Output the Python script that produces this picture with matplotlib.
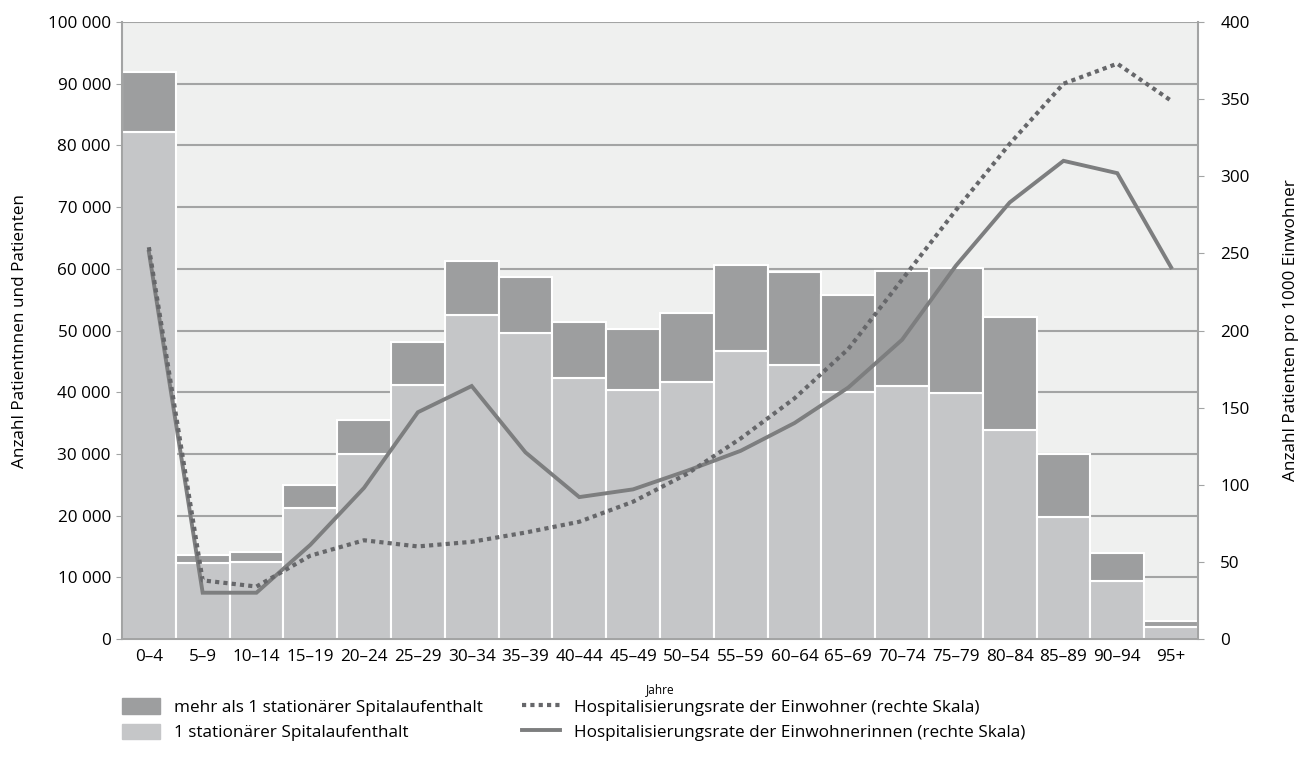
import matplotlib
matplotlib.use("Agg")
import matplotlib.pyplot as plt
import matplotlib.patches as mpatches
from matplotlib.lines import Line2D
from matplotlib.ticker import FuncFormatter
import numpy as np

plt.rcParams['font.family'] = ['Open Sans', 'DejaVu Sans']

# Daten
altersgruppen = ['0–4', '5–9', '10–14', '15–19', '20–24', '25–29', '30–34', '35–39',
                 '40–44', '45–49', '50–54', '55–59', '60–64', '65–69', '70–74',
                 '75–79', '80–84', '85–89', '90–94', '95+']
ein_aufenthalt = [82200, 12300, 12500, 21200, 30000, 41200, 52500, 49600, 42300, 40400,
                  41700, 46700, 44400, 40000, 41000, 39900, 33900, 19800, 9400, 1900]
total_patienten = [91900, 13600, 14100, 25000, 35500, 48100, 61300, 58700, 51400, 50200,
                   52800, 60600, 59500, 55800, 59600, 60100, 52200, 30000, 13900, 2900]
rate_maenner = [254, 38, 34, 54, 64, 60, 63, 69, 76, 89,
                107, 130, 156, 188, 233, 278, 321, 360, 373, 349]
rate_frauen = [251, 30, 30, 61, 98, 147, 164, 121, 92, 97,
               109, 122, 140, 163, 194, 242, 283, 310, 302, 241]

mehr_aufenthalt = [t - e for t, e in zip(total_patienten, ein_aufenthalt)]

c_hell = '#c5c6c8'
c_dunkel = '#9d9e9f'
c_grid = '#a3a4a4'
c_linie = '#7d7e7f'
c_punkt = '#66676a'
fs = 12.3

fig = plt.figure(figsize=(13.03, 7.67), dpi=100)
ax = fig.add_axes([0.0936, 0.1669, 0.8258, 0.8044])
ax.set_facecolor('#eff0ef')

x = np.arange(len(altersgruppen))
ax.bar(x, ein_aufenthalt, width=1.0, color=c_hell, edgecolor='white', linewidth=1.5, zorder=2)
ax.bar(x, mehr_aufenthalt, bottom=ein_aufenthalt, width=1.0, color=c_dunkel,
       edgecolor='white', linewidth=1.5, zorder=2)

ax.set_xlim(-0.5, len(altersgruppen) - 0.5)
ax.set_ylim(0, 100000)
ax.set_yticks(np.arange(0, 100001, 10000))
ax.yaxis.set_major_formatter(FuncFormatter(lambda v, p: f"{int(v):,}".replace(',', ' ')))
ax.grid(axis='y', color=c_grid, linewidth=1.5, zorder=1)
ax.set_axisbelow(True)
ax.set_xticks(x)
ax.set_xticklabels(altersgruppen)
ax.tick_params(axis='x', length=0, labelsize=fs, pad=7)
ax.tick_params(axis='y', length=4, color=c_grid, labelsize=fs, pad=4)
for s in ['top', 'right']:
    ax.spines[s].set_visible(False)
for s in ['left', 'bottom']:
    ax.spines[s].set_color(c_grid)
    ax.spines[s].set_linewidth(1.5)
ax.set_ylabel('Anzahl Patientnnen und Patienten', fontsize=fs, labelpad=14)
ax.set_xlabel('Jahre', fontsize=8.5, labelpad=13)

ax2 = ax.twinx()
ax2.plot(x, rate_frauen, color=c_linie, linewidth=2.8, solid_joinstyle='miter', zorder=3)
ax2.plot(x, rate_maenner, color=c_punkt, linewidth=3, linestyle=(0, (1, 1)), zorder=4)
ax2.set_ylim(0, 400)
ax2.set_yticks(np.arange(0, 401, 50))
ax2.tick_params(axis='y', length=4, color=c_grid, labelsize=fs, pad=12)
for s in ['top', 'left', 'bottom']:
    ax2.spines[s].set_visible(False)
ax2.spines['right'].set_color(c_grid)
ax2.spines['right'].set_linewidth(1.5)
ax2.set_ylabel('Anzahl Patienten pro 1000 Einwohner', fontsize=fs, labelpad=24)

handles = [
    mpatches.Patch(color=c_dunkel, label='mehr als 1 stationärer Spitalaufenthalt'),
    mpatches.Patch(color=c_hell, label='1 stationärer Spitalaufenthalt'),
    Line2D([], [], color=c_punkt, linewidth=3, linestyle=(0, (1, 1)),
           label='Hospitalisierungsrate der Einwohner (rechte Skala)'),
    Line2D([], [], color=c_linie, linewidth=2.8,
           label='Hospitalisierungsrate der Einwohnerinnen (rechte Skala)'),
]
fig.legend(handles=handles, ncol=2, loc='upper left', bbox_to_anchor=(0.0936, 0.0895),
           frameon=False, fontsize=fs, handlelength=2.2, handleheight=1.0,
           columnspacing=2.3, labelspacing=0.45, handletextpad=0.85,
           borderpad=0, borderaxespad=0)

plt.savefig('out.png', dpi=100)
plt.close(fig)
